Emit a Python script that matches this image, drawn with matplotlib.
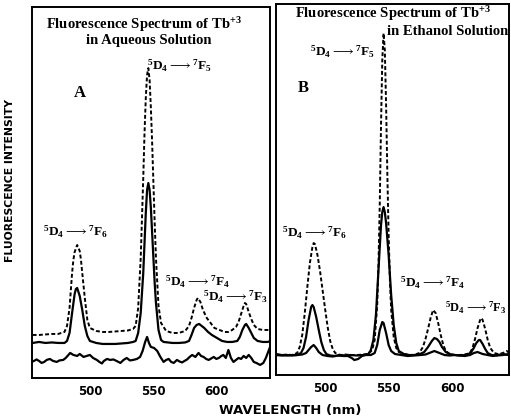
import matplotlib
matplotlib.use('Agg')
import matplotlib.pyplot as plt

plt.rcParams['mathtext.default'] = 'regular'

# panel A, Tb+3 in water: (wavelength nm, intensity)
a_dashed = [(455, 43), (460, 43), (465, 43.5), (470, 44), (475, 44), (480, 46), (482, 52),
            (484, 70), (486, 105), (487, 118), (488, 126), (490, 133), (492, 127), (493, 118),
            (494, 105), (496, 80), (498, 58), (500, 50), (505, 47), (510, 46), (515, 46),
            (520, 46.5), (525, 47), (530, 47.5), (534, 49), (536, 52), (538, 70), (540, 120),
            (542, 200), (543, 245), (544, 280), (545, 303), (546, 310), (547, 298), (548, 270),
            (549, 235), (550, 195), (551, 155), (552, 120), (554, 72), (556, 55), (560, 47),
            (565, 45), (570, 45), (575, 47), (578, 52), (580, 60), (582, 70), (584, 78),
            (585, 80), (587, 76), (589, 68), (592, 60), (595, 55), (598, 50), (602, 48),
            (606, 46), (609, 46), (612, 48), (615, 51), (617, 56), (619, 64), (621, 72),
            (622, 75), (623, 74), (625, 66), (627, 59), (629, 53), (632, 49), (636, 48),
            (640, 48), (642, 48)]
a_solid = [(455, 35), (460, 36), (465, 35), (470, 35.5), (475, 35), (480, 35), (482, 37),
           (484, 45), (486, 65), (488, 84), (489, 89), (490, 90), (492, 82), (494, 68),
           (496, 52), (498, 42), (500, 37), (505, 35), (510, 34), (515, 34), (520, 34),
           (525, 34.5), (530, 35), (534, 36), (536, 37), (538, 45), (540, 65), (542, 105),
           (543, 135), (544, 165), (545, 188), (546, 195), (547, 188), (548, 170), (549, 145),
           (550, 120), (551, 95), (552, 75), (554, 48), (556, 38), (558, 36), (565, 35),
           (570, 35), (575, 35.5), (578, 37), (580, 43), (582, 50), (584, 53), (586, 54),
           (588, 52), (590, 50), (593, 46), (596, 43), (600, 40), (604, 37), (608, 36),
           (612, 36), (616, 37), (618, 41), (620, 48), (622, 53), (623, 54), (625, 50),
           (627, 45), (629, 40), (632, 37), (636, 36), (640, 36), (642, 37)]
a_noisy = [(454, 16), (456, 17), (458, 18.5), (460, 17), (462, 15), (464, 16), (466, 18),
           (468.5, 19), (471, 17), (474, 16), (476, 17.5), (479, 18), (481, 20), (484.5, 25),
           (487, 23), (490, 22), (492, 24), (495, 21), (497.5, 22), (500, 23), (502.5, 20),
           (505.5, 18), (507.5, 16), (509.5, 14.5), (511, 17), (513.5, 19), (516, 18),
           (518.5, 18.5), (521, 17), (524, 15), (526.5, 18), (529, 20), (531.5, 17.5),
           (534, 18), (537, 19), (539.5, 21), (541.5, 27), (543.5, 36), (545, 41),
           (546.5, 35), (548, 31), (550.5, 30), (553, 27), (555.5, 21), (558, 16), (560, 18),
           (562, 19), (564, 16), (566, 15), (568.5, 18), (570.5, 16.5), (572.5, 15.5),
           (574.5, 17), (576.5, 18.5), (578.5, 21), (580.5, 23), (583, 21), (585.5, 25),
           (587.5, 22), (589.5, 21), (591.5, 19), (593.5, 18), (595.5, 19.5), (597.5, 21),
           (599.5, 19), (601.5, 20), (603.5, 22), (605, 23), (607, 20), (609, 28), (611, 20),
           (613, 16), (615, 18), (617, 20), (619, 19), (621, 22), (623, 20), (625, 23),
           (627, 20), (629, 16), (631, 15), (634, 13), (636.5, 15), (638.5, 20), (640, 25),
           (641.5, 30)]

# panel B, Tb+3 in ethanol
b_dashed = [(462, 21), (466, 20), (470, 20.5), (474, 20), (478, 22), (480, 28), (482, 40),
            (484, 62), (486, 88), (488, 112), (490, 128), (491, 132), (492, 131), (494, 120),
            (496, 104), (498, 85), (500, 66), (502, 48), (504, 34), (506, 26), (508, 22),
            (512, 20), (516, 20.5), (520, 20), (525, 20), (530, 20.5), (534, 21), (537, 25),
            (539, 35), (541, 70), (542, 110), (543, 170), (544, 250), (545, 315), (546, 342),
            (547, 325), (548, 270), (549, 200), (550, 140), (551, 95), (552, 65), (554, 38),
            (556, 27), (558, 23), (562, 21), (566, 20), (570, 20), (574, 22), (577, 28),
            (579, 36), (581, 46), (583, 57), (585, 65), (587, 62), (589, 52), (591, 40),
            (593, 30), (595, 24), (598, 21), (602, 20), (606, 20), (610, 20.5), (614, 22),
            (616, 27), (618, 36), (620, 47), (622, 55), (623, 57), (624, 55), (626, 46),
            (628, 35), (630, 27), (633, 22), (636, 21), (640, 22), (643, 24), (645, 22)]
b_solid = [(462, 20), (466, 19.5), (470, 20), (474, 19.5), (478, 20), (481, 22), (483, 27),
           (485, 38), (487, 55), (489, 68), (490, 70), (491, 68), (493, 58), (495, 45),
           (497, 33), (499, 25), (501, 21), (504, 19.5), (508, 19), (512, 20), (516, 19.5),
           (520, 20), (525, 19.5), (530, 20), (534, 21), (536, 25), (538, 35), (540, 60),
           (542, 105), (544, 150), (545, 163), (546, 168), (547, 163), (548, 152), (550, 120),
           (552, 80), (554, 50), (556, 32), (558, 24), (562, 21), (566, 20), (570, 20),
           (574, 20.5), (578, 23), (581, 28), (584, 34), (586, 37), (588, 36), (590, 33),
           (592, 28), (595, 23), (598, 21), (602, 20), (606, 19.5), (610, 20), (613, 21),
           (615, 23), (617, 27), (619, 32), (621, 35), (622, 35), (624, 31), (626, 26),
           (628, 22), (631, 20), (635, 19.5), (640, 20), (645, 21)]
b_low = [(462, 20), (466, 20), (470, 19.5), (474, 20), (478, 20), (482, 20.5), (485, 22),
         (487, 25), (489, 28), (491, 30), (493, 27), (495, 23), (498, 20), (502, 19),
         (506, 18.5), (510, 19.5), (514, 19), (518, 19), (521, 17), (523, 15), (526, 16),
         (529, 19), (532, 20), (536, 20), (539, 22), (541, 30), (543, 45), (545, 53),
         (546, 52), (548, 42), (550, 30), (552, 24), (555, 21), (560, 20), (565, 19),
         (570, 19.5), (575, 20), (579, 20.5), (582, 22), (586, 24), (590, 22), (594, 20),
         (598, 19.5), (602, 20), (606, 19.5), (610, 19), (614, 20), (617, 22), (620, 23),
         (624, 21), (628, 20), (632, 19), (636, 20), (640, 21), (644, 20)]

xticks = [500, 550, 600]
title_a = ['Fluorescence Spectrum of Tb$^{+3}$', 'in Aqueous Solution']
title_b = ['Fluorescence Spectrum of Tb$^{+3}$', 'in Ethanol Solution']


def trans(j):
    return '$^{5}$D$_{4}$$\\longrightarrow$$^{7}$F$_{%d}$' % j


serif = dict(family='Liberation Serif', weight='bold', color='black')
dash_style = dict(color='black', lw=1.4, linestyle=(0, (2.0, 1.2)))
solid_style = dict(color='black', lw=1.6)

fig = plt.figure(figsize=(5.11, 4.19), dpi=100)
ax_a = fig.add_axes([0.063, 0.098, 0.466, 0.885])
ax_b = fig.add_axes([0.540, 0.105, 0.456, 0.885])

for ax, series in ((ax_a, [a_dashed, a_solid, a_noisy]), (ax_b, [b_dashed, b_solid, b_low])):
    for k, s in enumerate(series):
        wl, val = zip(*s)
        if k == 0:
            ax.plot(wl, val, **dash_style)
        else:
            ax.plot(wl, val, **solid_style)
    ax.set_ylim(0, 371)
    ax.set_yticks([])
    ax.set_xticks(xticks)
    ax.set_xticklabels([str(t) for t in xticks], fontsize=8.5, fontweight='bold')
    ax.tick_params(axis='x', length=0, pad=5)
    for sp in ax.spines.values():
        sp.set_linewidth(1.4)

ax_a.set_xlim(454.6, 642)
ax_b.set_xlim(461.3, 644.7)

# panel A text
ax_a.text(542.8, 354, title_a[0], ha='center', va='center', fontsize=10.5, **serif)
ax_a.text(546.7, 338, title_a[1], ha='center', va='center', fontsize=10.5, **serif)
ax_a.text(492.4, 285, 'A', ha='center', va='center', fontsize=12, **serif)
ax_a.text(545, 312, trans(5), ha='left', va='center', fontsize=9.5, **serif)
ax_a.text(463, 146, trans(6), ha='left', va='center', fontsize=9.5, **serif)
ax_a.text(559.3, 96, trans(4), ha='left', va='center', fontsize=9.5, **serif)
ax_a.text(589.3, 81, trans(3), ha='left', va='center', fontsize=9.5, **serif)

# panel B text
ax_b.text(476.2, 362, title_b[0], ha='left', va='center', fontsize=10.5, **serif)
ax_b.text(548.7, 344, title_b[1], ha='left', va='center', fontsize=10.5, **serif)
ax_b.text(482.5, 287, 'B', ha='center', va='center', fontsize=12, **serif)
ax_b.text(488, 323, trans(5), ha='left', va='center', fontsize=9.5, **serif)
ax_b.text(466, 142, trans(6), ha='left', va='center', fontsize=9.5, **serif)
ax_b.text(558.9, 92, trans(4), ha='left', va='center', fontsize=9.5, **serif)
ax_b.text(594.5, 67, trans(3), ha='left', va='center', fontsize=9, **serif)

fig.text(0.02, 0.57, 'FLUORESCENCE INTENSITY', rotation=90, ha='center', va='center',
         fontsize=7.8, fontweight='bold')
fig.text(0.567, 0.021, 'WAVELENGTH (nm)', ha='center', va='center',
         fontsize=9.5, fontweight='bold')

fig.savefig('out.png', dpi=100)
